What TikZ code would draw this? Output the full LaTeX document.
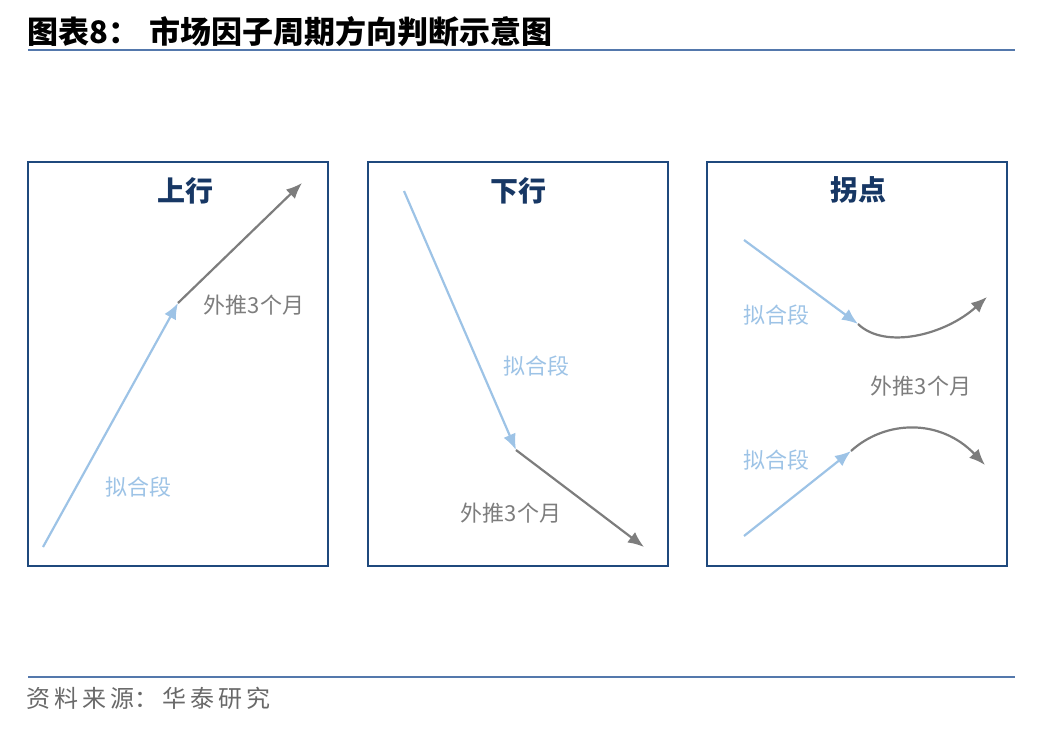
\documentclass[tikz,border=0pt]{standalone}
\usepackage{fontspec}
\setmainfont{Noto Sans CJK SC}
\usepackage{color}
\usepackage{tikz}
\usetikzlibrary{arrows.meta,positioning}
\definecolor{RuleBlue}{RGB}{84,120,172}
\definecolor{BoxBlue}{RGB}{31,73,125}
\definecolor{HeadBlue}{RGB}{23,55,100}
\definecolor{FitBlue}{RGB}{157,195,230}
\definecolor{ExtGrey}{RGB}{125,125,125}
\definecolor{SrcGrey}{RGB}{105,105,105}
\tikzstyle{panel}=[draw=BoxBlue,line width=2.5pt,inner sep=0pt]
\tikzstyle{head}=[text=HeadBlue,font=\fontsize{28}{30}\selectfont\bfseries]
\tikzstyle{fitlab}=[text=FitBlue,font=\fontsize{22}{26}\selectfont]
\tikzstyle{extlab}=[text=ExtGrey,font=\fontsize{22}{26}\selectfont]
\tikzstyle{fitarrow}=[->,draw=FitBlue,line width=2.2pt]
\tikzstyle{extarrow}=[->,draw=ExtGrey,line width=2.2pt]
\begin{document}
\begin{tikzpicture}[x=1pt,y=-1pt,>={Latex[length=16pt,width=13pt]}]
\useasboundingbox (0,0) rectangle (1048,728);
\node[anchor=west,font=\fontsize{31}{33}\selectfont\bfseries] (T) at (24,32) {图表8：\hspace{10pt}市场因子周期方向判断示意图};
\coordinate (R1) at (28,50);
\coordinate (R2) at (1015,50);
\draw[RuleBlue,line width=2pt] (R1) -- (R2);
\coordinate (S1) at (28,677);
\coordinate (S2) at (1015,677);
\draw[RuleBlue,line width=1.5pt] (S1) -- (S2);
\node[anchor=west,text=SrcGrey,font=\fontsize{24}{26}\selectfont] (src) at (23,698) {资\,料\,来\,源：\,华\,泰\,研\,究};
% up
\draw[panel] (28,162) rectangle (328,566);
\node[head] (H1) at (185,191) {上行};
\coordinate (A0) at (43,547);
\coordinate (A1) at (178,303);
\coordinate (A2) at (302,183);
\draw[fitarrow] (A0) -- (A1);
\draw[extarrow] (A1) -- (A2);
\node[extlab] (E1) at (254,305) {外推3个月};
\node[fitlab] (F1) at (138,487) {拟合段};
% down
\draw[panel] (368,162) rectangle (668,566);
\node[head] (H2) at (518,191) {下行};
\coordinate (B0) at (404,191);
\coordinate (B1) at (516,450);
\coordinate (B2) at (644,547);
\draw[fitarrow] (B0) -- (B1);
\draw[extarrow] (B1) -- (B2);
\node[fitlab] (F2) at (536,366) {拟合段};
\node[extlab] (E2) at (511,513) {外推3个月};
% turn
\draw[panel] (707,162) rectangle (1007,566);
\node[head] (H3) at (858,190) {拐点};
\coordinate (C0) at (744,240);
\coordinate (C1) at (858,324);
\coordinate (C2) at (987,297);
\draw[fitarrow] (C0) -- (C1);
\draw[extarrow] (C1) .. controls (885,350) and (945,335) .. (C2);
\node[fitlab] (F3) at (776,315) {拟合段};
\node[extlab] (E3) at (921,386) {外推3个月};
\coordinate (D0) at (744,536);
\coordinate (D1) at (851,451);
\coordinate (D2) at (985,465);
\draw[fitarrow] (D0) -- (D1);
\draw[extarrow] (D1) .. controls (885,420) and (940,418) .. (D2);
\node[fitlab] (F4) at (776,460) {拟合段};
\end{tikzpicture}
\end{document}
